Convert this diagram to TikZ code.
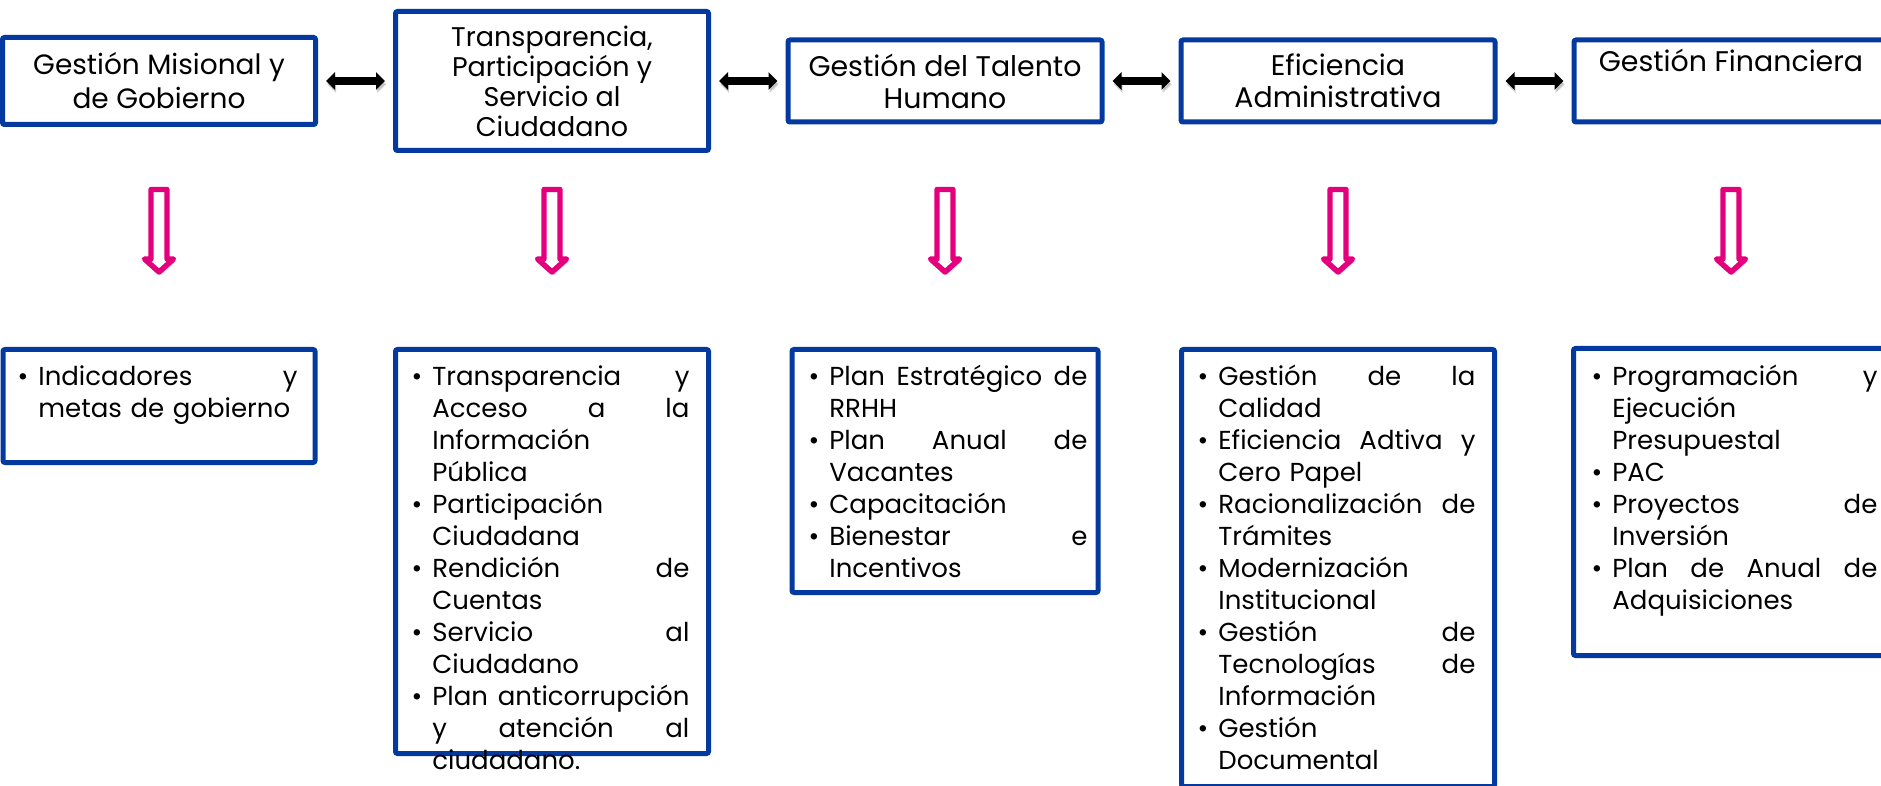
\documentclass[tikz,border=0pt]{standalone}
\usepackage{fontspec}
\setmainfont{Poppins}
\usetikzlibrary{arrows.meta,shadows}
\definecolor{boxblue}{RGB}{4,58,160}
\definecolor{arrowpink}{RGB}{228,0,124}
\setlength{\parindent}{0pt}
\hyphenpenalty=10000
\exhyphenpenalty=10000
\newcommand{\jl}[1]{\makebox[\hsize][s]{\spaceskip=0.3em plus 1fil\relax #1}}
\newcommand{\bul}{\leavevmode\llap{\textbullet\hspace{5pt}}}

\begin{document}
\begin{tikzpicture}[x=0.5pt,y=-0.5pt,node distance=196.5pt,
  box/.style={draw=boxblue,line width=2.5pt,rounded corners=1pt,inner sep=0pt,align=center},
  list/.style={anchor=north west,inner sep=0pt,align=left,font=\fontsize{13}{16}\selectfont},
  link/.style={{Triangle[width=8.5pt,length=4.5pt]}-{Triangle[width=8.5pt,length=4.5pt]},line width=3.8pt,
    shorten <=4pt,shorten >=4pt,preaction={draw=black!30,opacity=.6,transform canvas={shift={(0.6pt,-1.6pt)}}}},
  pics/downarrow/.style={code={\draw[arrowpink,fill=white,line width=2.7pt,line join=round,
    drop shadow={shadow xshift=1pt,shadow yshift=-1.5pt,opacity=.3}]
    (-8,2.5) -- (8,2.5) -- (8,72) -- (14.5,72) -- (0,85) -- (-14.5,72) -- (-8,72) -- cycle;}}]
\useasboundingbox (0,0) rectangle (1881,786);
\node[box,minimum width=156.5pt,minimum height=43.5pt,font=\fontsize{14}{17}\selectfont] (1) at (159,81) {Gestión Misional y\\de Gobierno};
\node[box,minimum width=156.5pt,minimum height=69.5pt,font=\fontsize{13.5}{15}\selectfont] (2) [right of=1] {Transparencia,\\Participación y\\Servicio al\\Ciudadano};
\node[box,minimum width=157pt,minimum height=41pt,font=\fontsize{14.2}{16}\selectfont] (3) [right of=2] {Gestión del Talento\\Humano};
\node[box,minimum width=157pt,minimum height=41pt,font=\fontsize{14.2}{16}\selectfont] (4) [right of=3] {Eficiencia\\Administrativa};
\node[box,minimum width=157pt,minimum height=41pt,font=\fontsize{14.2}{16}\selectfont] (5) [right of=4] {Gestión Financiera\\\strut};
\foreach \a/\b in {1/2,2/3,3/4,4/5}
  \draw[link] (\a) -- (\b);
\foreach \n in {1,...,5}
  \pic at (\n |- 0,187) {downarrow};
\node[box,minimum width=156pt,minimum height=56.5pt] (l1) at (1 |- 0,406) {};
\node[box,minimum width=156.5pt,minimum height=202pt] (l2) at (2 |- 0,551.5) {};
\node[box,minimum width=153pt,minimum height=121.5pt] (l3) at (3 |- 0,471) {};
\node[box,minimum width=156.5pt,minimum height=218.5pt] (l4) at (4 |- 0,568) {};
\node[box,minimum width=157.5pt,minimum height=153.5pt] (l5) at (5 |- 0,502) {};
\node[list,text width=129.5pt] (t1) at (38,362.6) {\strut\bul\jl{Indicadores y}\\metas de gobierno};
\node[list,text width=128.5pt] (t2) at (432,362.6) {\strut\bul\jl{Transparencia y}\\\jl{Acceso a la}\\Información\\Pública\\
  \bul Participación\\Ciudadana\\\bul\jl{Rendición de}\\Cuentas\\\bul\jl{Servicio al}\\Ciudadano\\
  \bul\jl{Plan anticorrupción}\\\jl{y atención al}\\ciudadano.};
\node[list,text width=129pt] (t3) at (829,362.6) {\strut\bul\jl{Plan Estratégico de}\\RRHH\\\bul\jl{Plan Anual de}\\Vacantes\\
  \bul Capacitación\\\bul\jl{Bienestar e}\\Incentivos};
\node[list,text width=128.5pt] (t4) at (1218,362.6) {\strut\bul\jl{Gestión de la}\\Calidad\\\bul\jl{Eficiencia Adtiva y}\\Cero Papel\\
  \bul\jl{Racionalización de}\\Trámites\\\bul Modernización\\Institucional\\\bul\jl{Gestión de}\\\jl{Tecnologías de}\\
  Información\\\bul Gestión\\Documental};
\node[list,text width=132.5pt] (t5) at (1612,362.6) {\strut\bul\jl{Programación y}\\Ejecución\\Presupuestal\\\bul PAC\\
  \bul\jl{Proyectos de}\\Inversión\\\bul\jl{Plan de Anual de}\\Adquisiciones};
\end{tikzpicture}
\end{document}
